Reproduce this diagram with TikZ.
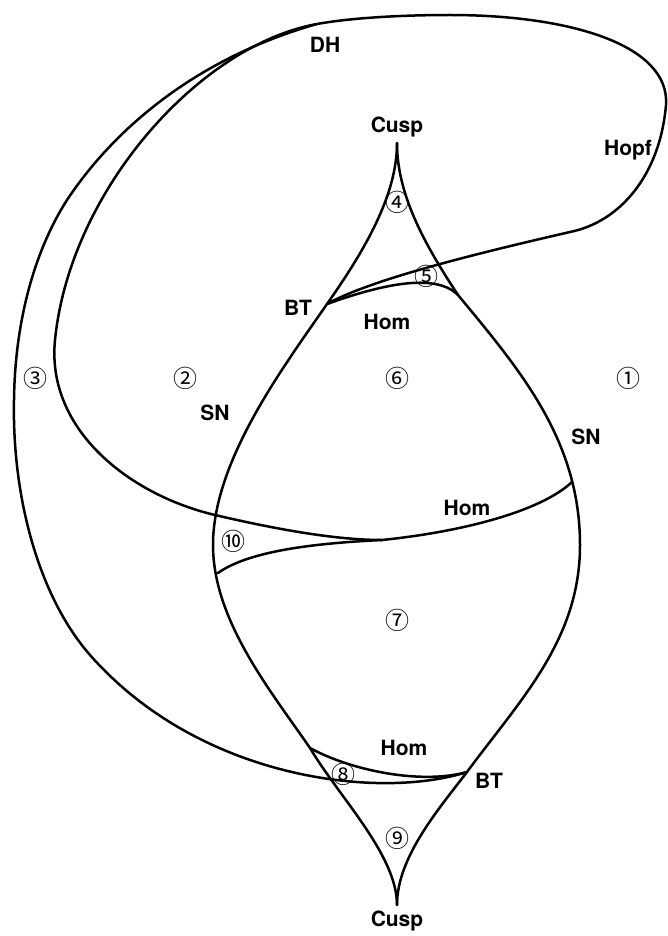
\documentclass[tikz,border=0pt]{standalone}
\usepackage{fontspec}
\setmainfont{TeX Gyre Heros}
\newfontfamily\circfont{Noto Sans CJK JP}
\begin{document}
\begin{tikzpicture}[x=1pt,y=-1pt,
  curve/.style={line width=2.5pt, line join=round, line cap=round},
  lbl/.style={font=\fontsize{21}{21}\selectfont\bfseries, inner sep=0pt},
  reg/.style={font=\circfont\fontsize{24}{24}\selectfont, inner sep=0pt}]
\useasboundingbox (0,0) rectangle (667,936);
% key points
\coordinate (cuspT) at (397,143);
\coordinate (btU) at (327,304);
\coordinate (hU) at (458,295);
\coordinate (snL) at (213,545);
\coordinate (snR) at (580,545);
\coordinate (hL) at (310,748);
\coordinate (btL) at (467,772);
\coordinate (cuspB) at (397,905);
\coordinate (T) at (382,540);
\coordinate (hM) at (572,482);
\coordinate (tenL) at (218,573);
\coordinate (DH) at (317,24);
% SN curve, left branch
\draw[curve] (cuspT) .. controls (397,195) and (365,250) .. (btU)
  .. controls (285,365) and (213,460) .. (snL)
  .. controls (213,620) and (270,690) .. (hL)
  .. controls (339,797) and (397,855) .. (cuspB);
% SN curve, right branch
\draw[curve] (cuspT) .. controls (397,195) and (425,245) .. (hU)
  .. controls (520,370) and (580,440) .. (snR)
  .. controls (580,640) and (520,700) .. (btL)
  .. controls (437,811) and (397,858) .. (cuspB);
% upper Hom
\draw[curve] (btU) .. controls (380,285) and (435,272) .. (hU);
% upper Hopf: right loop, through DH, down to the tangency point
\draw[curve] (btU) .. controls (370,280) and (470,255) .. (570,232)
  .. controls (620,222) and (660,175) .. (666,105)
  .. controls (670,45) and (570,15) .. (450,15)
  .. controls (400,15) and (350,18) .. (DH)
  .. controls (200,45) and (70,190) .. (55,340)
  .. controls (46,430) and (130,495) .. (215,515)
  .. controls (275,529) and (335,540) .. (T);
% lower Hopf up to DH
\draw[curve] (btL) .. controls (380,800) and (200,780) .. (90,655)
  .. controls (40,598) and (12,500) .. (14,400)
  .. controls (15,320) and (35,250) .. (67,200)
  .. controls (110,135) and (190,60) .. (DH);
% middle Hom
\draw[curve] (T) .. controls (460,532) and (540,512) .. (hM);
% lower boundary of region 10
\draw[curve] (tenL) .. controls (250,550) and (320,543) .. (T);
% lower Hom
\draw[curve] (hL) .. controls (350,770) and (420,785) .. (btL);
% labels
\node[lbl] (lDH) at (325,45) {DH};
\node[lbl] (lCuspT) at (397,127) {Cusp};
\node[lbl] (lHopf) at (628,150) {Hopf};
\node[lbl] (lBTU) at (298,308) {BT};
\node[lbl] (lHomU) at (387,322) {Hom};
\node[lbl] (lSNL) at (215,413) {SN};
\node[lbl] (lSNR) at (586,437) {SN};
\node[lbl] (lHomM) at (467,508) {Hom};
\node[lbl] (lHomL) at (404,748) {Hom};
\node[lbl] (lBTL) at (489,781) {BT};
\node[lbl] (lCuspB) at (397,921) {Cusp};
\node[reg] (r1) at (628,378) {①};
\node[reg] (r2) at (185,378) {②};
\node[reg] (r3) at (35,378) {③};
\node[reg] (r4) at (397,202) {④};
\node[reg] (r5) at (426,276) {⑤};
\node[reg] (r6) at (397,378) {⑥};
\node[reg] (r7) at (397,620) {⑦};
\node[reg] (r8) at (343,774) {⑧};
\node[reg] (r9) at (397,838) {⑨};
\node[reg] (r10) at (233,541) {⑩};
\end{tikzpicture}
\end{document}
